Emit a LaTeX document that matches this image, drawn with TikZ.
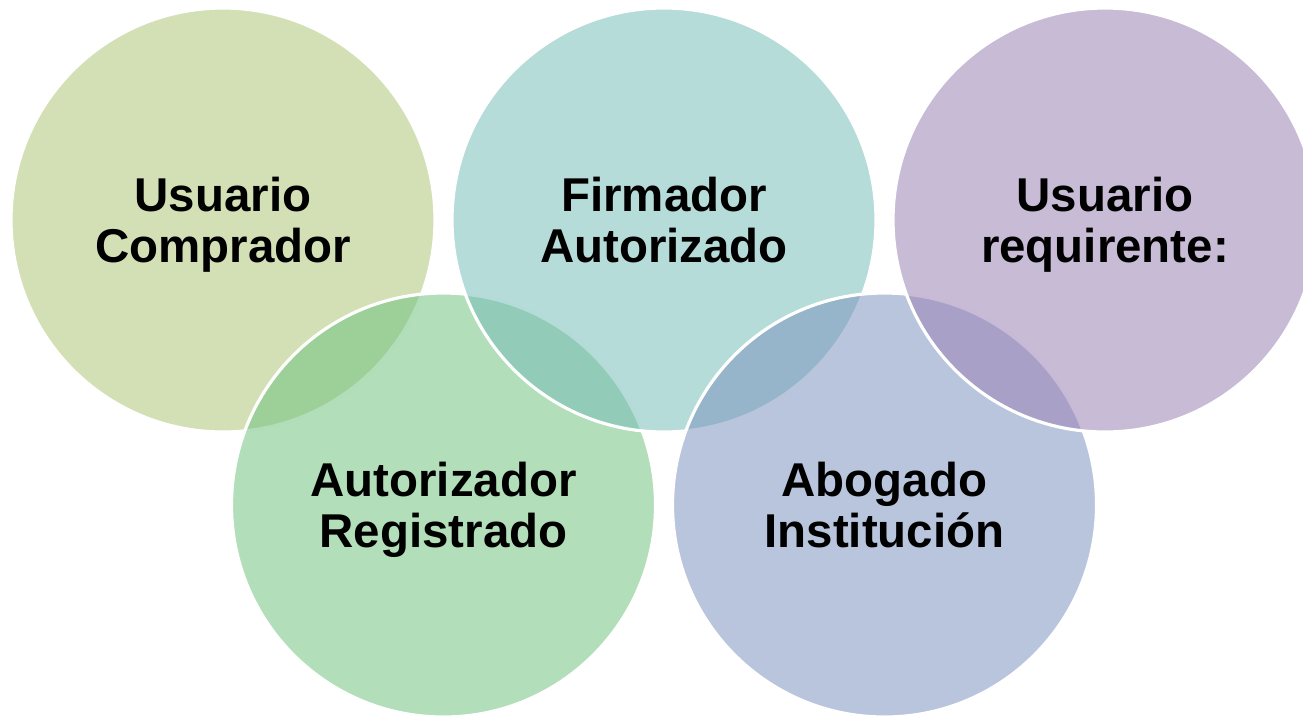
\documentclass[tikz,border=0pt]{standalone}
\usepackage{fontspec}
\setmainfont{Liberation Sans}

\definecolor{verdeA}{RGB}{175,199,121}
\definecolor{verdeB}{RGB}{114,194,127}
\definecolor{turquesa}{RGB}{121,191,186}
\definecolor{azul}{RGB}{126,150,191}
\definecolor{lila}{RGB}{155,131,181}

\begin{document}
\begin{tikzpicture}[
    rol/.style={circle, minimum size=4.24cm, inner sep=0pt, draw=white,
                line width=0.9pt, fill opacity=0.55, text opacity=1,
                align=center, text depth=0pt,
                font=\bfseries\fontsize{13.5}{14.4}\selectfont},
  ]
    \useasboundingbox (0,0) rectangle (13.03,7.15);
    \clip (0,0) rectangle (13.03,7.15);
    % drawn in this order so each circle lies over the one before
    \node (comprador)   [rol, fill=verdeA]   at (2.23,4.95)  {Usuario\\Comprador};
    \node (autorizador) [rol, fill=verdeB]   at (4.435,2.10) {Autorizador\\Registrado};
    \node (firmador)    [rol, fill=turquesa] at (6.64,4.95)  {Firmador\\Autorizado};
    \node (abogado)     [rol, fill=azul]     at (8.845,2.10) {Abogado\\Institución};
    \node (requirente)  [rol, fill=lila]     at (11.05,4.95) {Usuario\\requirente:};
  \end{tikzpicture}
\end{document}
